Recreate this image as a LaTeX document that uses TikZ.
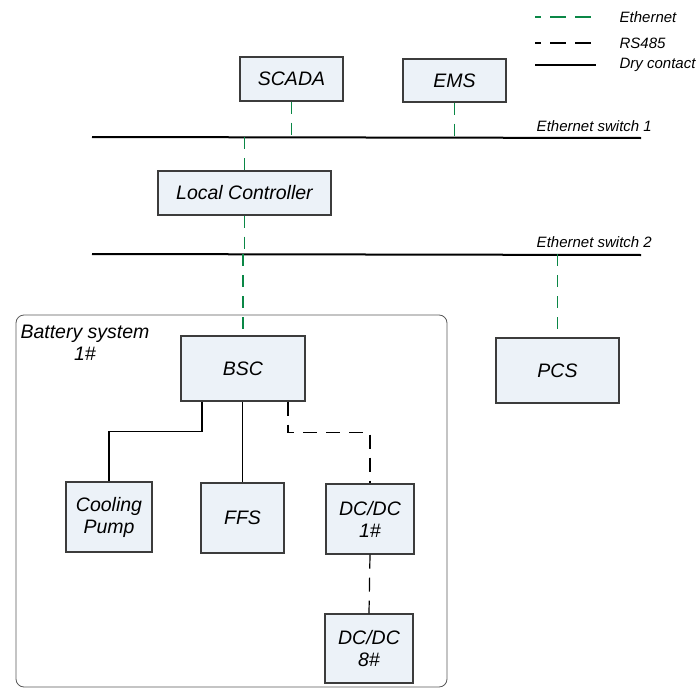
\documentclass[tikz,border=0pt]{standalone}
\usepackage{fontspec}
\setmainfont{Liberation Sans}
\usepackage{xcolor}
\usepackage{tikz}
\usetikzlibrary{positioning}

\definecolor{ethgreen}{RGB}{10,135,70}
\definecolor{boxfill}{RGB}{236,242,248}
\definecolor{boxline}{RGB}{60,60,60}

\tikzset{
	unitbox/.style={draw=boxline, fill=boxfill, line width=1.1pt, inner sep=0pt,
		align=center, font=\fontsize{19.5}{22}\selectfont\itshape},
	ethline/.style={ethgreen, line width=1.4pt, dash pattern=on 12pt off 9pt},
	rsline/.style={black, line width=1.2pt, dash pattern=on 14pt off 9pt},
	dryline/.style={black, line width=1.2pt},
	busline/.style={black, line width=2pt},
	buslabel/.style={text=black, font=\fontsize{15}{17}\selectfont\itshape, inner sep=0pt}
}

\begin{document}
\begin{tikzpicture}[x=1pt, y=-1pt]
				\useasboundingbox (0, 0) rectangle (697, 688) ;
				\def\busleft{92}
				\def\busright{641}

				% legend
				\coordinate (legA) at (535, 17) ;
				\coordinate (legB) at (535, 43) ;
				\coordinate (legC) at (535, 65) ;
				\draw[ethline, dash pattern=on 16pt off 9pt, dash phase=10pt] (legA) -- ++(61, 0) node[buslabel, right=23pt] (legeth) {Ethernet} ;
				\draw[rsline, dash pattern=on 16pt off 9pt, dash phase=10pt] (legB) -- ++(61, 0) node[buslabel, right=23pt] (legrs) {RS485} ;
				\draw[dryline] (legC) -- ++(61, 0) node[buslabel, right=23pt] (legdry) {Dry contact} ;

				% switches
				\coordinate (sw1l) at (\busleft, 137) ;
				\coordinate (sw1r) at (\busright, 138) ;
				\coordinate (sw2l) at (\busleft, 254) ;
				\coordinate (sw2r) at (\busright, 255) ;
				\draw[busline] (sw1l) -- (sw1r) ;
				\draw[busline] (sw2l) -- (sw2r) ;
				\node[buslabel, anchor=south east] (sw1txt) at (652, 132) {Ethernet switch 1} ;
				\node[buslabel, anchor=south east] (sw2txt) at (652, 248) {Ethernet switch 2} ;

				% battery system frame
				\draw[gray!70!black, line width=0.8pt, rounded corners=8pt] (16, 315) rectangle (447, 687) ;
				\node[font=\fontsize{19.5}{22}\selectfont\itshape, align=center, inner sep=0pt] (battxt) at (85, 343) {Battery system\\1\#} ;

				% units
				\node[unitbox, minimum width=103pt, minimum height=44pt] (scada) at (291.5, 79) {SCADA} ;
				\node[unitbox, minimum width=103pt, minimum height=43pt] (ems) at (454.5, 80.5) {EMS} ;
				\node[unitbox, minimum width=173pt, minimum height=44pt] (lc) at (244.5, 193) {Local Controller} ;
				\node[unitbox, minimum width=124pt, minimum height=65pt] (bsc) at (243, 368.5) {BSC} ;
				\node[unitbox, minimum width=123pt, minimum height=65pt] (pcs) at (557.5, 370.5) {PCS} ;
				\node[unitbox, minimum width=86pt, minimum height=70pt] (pump) at (109, 517) {Cooling\\Pump} ;
				\node[unitbox, minimum width=83pt, minimum height=70pt] (ffs) at (242.5, 518) {FFS} ;
				\node[unitbox, minimum width=88pt, minimum height=70pt] (dc1) at (370, 519) {DC/DC\\1\#} ;
				\node[unitbox, minimum width=88pt, minimum height=69pt] (dc8) at (369, 648.5) {DC/DC\\8\#} ;

				% ethernet links
				\draw[ethline] (scada.south) -- (scada.south |- sw1l) ;
				\draw[ethline] (ems.south) -- (ems.south |- sw1l) ;
				\draw[ethline] (lc.north |- sw1l) -- (lc.north) ;
				\draw[ethline] (lc.south) -- (lc.south |- sw2l) ;
				\draw[ethline] (bsc.north |- sw2l) -- (bsc.north) ;
				\draw[ethline] (pcs.north |- sw2l) -- (pcs.north) ;

				% dry contact links
				\draw[dryline] ([xshift=-41pt]bsc.south) |- ++(0, 30) -| (pump.north) ;
				\draw[dryline] (bsc.south -| ffs.north) -- (ffs.north) ;

				% rs485 links
				\draw[rsline] ([xshift=45pt]bsc.south) |- ++(0, 31) -| (dc1.north) ;
				\draw[rsline] (dc1.south) -- (dc8.north) ;
			\end{tikzpicture}
\end{document}
